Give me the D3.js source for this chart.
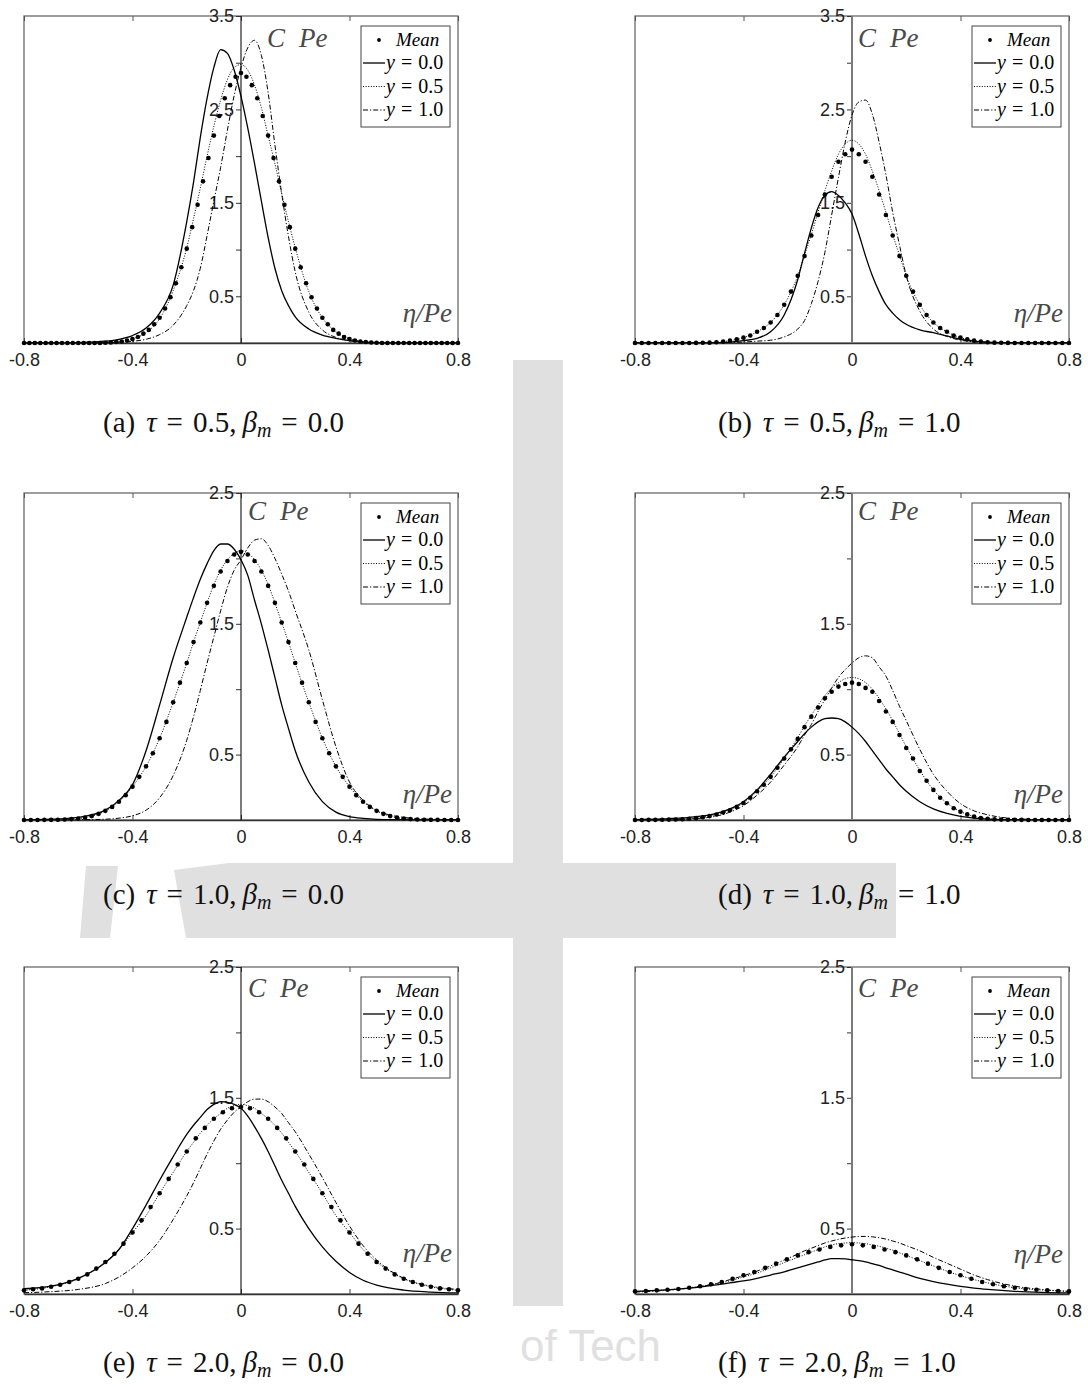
<!DOCTYPE html>
<html>
<head>
<meta charset="utf-8">
<script src="https://cdn.jsdelivr.net/npm/d3@7"></script>
<style>
  html, body { margin: 0; padding: 0; background: #fff; }
  svg { display: block; }
</style>
</head>
<body>
<svg id="fig" width="1088" height="1387"></svg>
<script>
// ---------------------------------------------------------------
// Concentration profiles C·Pe against η/Pe, six cases
// ---------------------------------------------------------------

// abscissae (η/Pe) at which the three transverse profiles are tabulated
const ETA = [-0.8, -0.7, -0.6, -0.5, -0.45, -0.4, -0.35, -0.3, -0.25, -0.2, -0.175, -0.15, -0.125, -0.1, -0.075, -0.05, -0.025,
  0, 0.025, 0.05, 0.075, 0.1, 0.125, 0.15, 0.175, 0.2, 0.25, 0.3, 0.35, 0.4, 0.45, 0.5, 0.6, 0.7, 0.8];

// (a) tau = 0.5, beta_m = 0.0
const A_Y00 = [0, 0, 0.005, 0.02, 0.04, 0.08, 0.16, 0.32, 0.62, 1.3, 1.72, 2.2, 2.62, 2.95, 3.14, 3.1, 2.92, 2.64, 2.3, 1.92, 1.52, 1.13, 0.8, 0.56, 0.4, 0.28, 0.15, 0.085, 0.05, 0.025, 0.01, 0.005, 0, 0, 0];
const A_Y05 = [0, 0, 0, 0.01, 0.02, 0.045, 0.11, 0.26, 0.56, 1.02, 1.33, 1.66, 2.0, 2.32, 2.6, 2.82, 2.95, 2.98, 2.92, 2.76, 2.52, 2.22, 1.92, 1.6, 1.3, 1.02, 0.55, 0.27, 0.12, 0.045, 0.015, 0.005, 0, 0, 0];
const A_Y10 = [0, 0, 0, 0.003, 0.008, 0.018, 0.04, 0.09, 0.19, 0.4, 0.56, 0.8, 1.15, 1.52, 1.88, 2.28, 2.65, 2.95, 3.16, 3.24, 3.08, 2.68, 2.12, 1.6, 1.14, 0.76, 0.33, 0.14, 0.06, 0.025, 0.01, 0.004, 0, 0, 0];
const A_MEAN = [0, 0, 0, 0, 0, 0, 0, 0, 0, 0, 0, 0, 0, 0, 0,
  0.003, 0.006, 0.01, 0.016, 0.026, 0.042, 0.065, 0.1, 0.14, 0.2,
  0.27, 0.37, 0.49, 0.64, 0.81, 1.01, 1.24, 1.48, 1.73, 1.98,
  2.22, 2.43, 2.62, 2.76, 2.85, 2.89, 2.85, 2.76, 2.62, 2.43, 2.22,
  1.98, 1.73, 1.48, 1.24, 1.01, 0.81, 0.64, 0.49, 0.37, 0.27,
  0.2, 0.14, 0.1, 0.065, 0.042, 0.026, 0.016, 0.01, 0.006, 0.003,
  0, 0, 0, 0, 0, 0, 0, 0, 0, 0, 0, 0, 0, 0, 0];

// (b) tau = 0.5, beta_m = 1.0
const B_Y00 = [0, 0, 0, 0.004, 0.01, 0.025, 0.05, 0.12, 0.3, 0.68, 0.96, 1.23, 1.45, 1.58, 1.62, 1.58, 1.5, 1.38, 1.17, 0.93, 0.72, 0.55, 0.41, 0.32, 0.25, 0.2, 0.14, 0.11, 0.075, 0.04, 0.02, 0.008, 0.002, 0, 0];
const B_Y05 = [0, 0, 0, 0.008, 0.025, 0.057, 0.12, 0.22, 0.41, 0.72, 0.94, 1.16, 1.4, 1.63, 1.84, 2.02, 2.13, 2.17, 2.13, 2.02, 1.84, 1.63, 1.4, 1.16, 0.94, 0.72, 0.41, 0.22, 0.12, 0.057, 0.025, 0.008, 0, 0, 0];
const B_Y10 = [0, 0, 0, 0.002, 0.005, 0.01, 0.02, 0.03, 0.065, 0.15, 0.24, 0.42, 0.66, 0.97, 1.37, 1.77, 2.15, 2.44, 2.58, 2.6, 2.45, 2.15, 1.8, 1.4, 1.05, 0.72, 0.34, 0.15, 0.07, 0.03, 0.012, 0.005, 0, 0, 0];
const B_MEAN = [0, 0, 0, 0, 0, 0, 0, 0, 0, 0.001,
  0.002, 0.004, 0.008, 0.015, 0.025, 0.04, 0.057, 0.08, 0.12, 0.16, 0.22, 0.3, 0.41, 0.55, 0.72, 0.93, 1.15, 1.37, 1.59, 1.78, 1.94, 2.02,
  2.07,
  2.02, 1.94, 1.78, 1.59, 1.37, 1.15, 0.93, 0.72, 0.55, 0.41, 0.3, 0.22, 0.16, 0.12, 0.08, 0.057, 0.04, 0.025, 0.015, 0.008, 0.004, 0.002,
  0.001, 0, 0, 0, 0, 0, 0, 0, 0, 0];

// (c) tau = 1.0, beta_m = 0.0
const C_Y00 = [0.002, 0.006, 0.02, 0.075, 0.15, 0.27, 0.53, 0.88, 1.24, 1.55, 1.7, 1.84, 1.96, 2.06, 2.11, 2.11, 2.07, 1.99, 1.87, 1.68, 1.5, 1.3, 1.09, 0.88, 0.7, 0.53, 0.29, 0.14, 0.06, 0.026, 0.012, 0.005, 0.002, 0, 0];
const C_Y05 = [0.001, 0.001, 0.011, 0.07, 0.14, 0.255, 0.41, 0.625, 0.9, 1.2, 1.36, 1.51, 1.66, 1.8, 1.91, 1.99, 2.04, 2.06, 2.04, 1.99, 1.91, 1.8, 1.66, 1.51, 1.36, 1.2, 0.9, 0.625, 0.41, 0.255, 0.14, 0.07, 0.011, 0.001, 0.001];
const C_Y10 = [0, 0, 0.002, 0.006, 0.014, 0.032, 0.075, 0.17, 0.34, 0.61, 0.79, 0.99, 1.2, 1.4, 1.6, 1.78, 1.91, 1.99, 2.08, 2.14, 2.15, 2.1, 2.0, 1.88, 1.75, 1.6, 1.3, 0.92, 0.56, 0.29, 0.15, 0.075, 0.02, 0.006, 0.002];
const C_MEAN = [0, 0, 0, 0.001, 0.001, 0.002, 0.004, 0.007, 0.011, 0.018, 0.03, 0.047, 0.07, 0.1, 0.14, 0.19,
  0.255, 0.33, 0.41, 0.51, 0.625, 0.75, 0.9, 1.05, 1.2, 1.36, 1.51, 1.66, 1.79, 1.9, 1.98, 2.03,
  2.05,
  2.03, 1.98, 1.9, 1.79, 1.66, 1.51, 1.36, 1.2, 1.05, 0.9, 0.75, 0.625, 0.51, 0.41, 0.33, 0.255,
  0.19, 0.14, 0.1, 0.07, 0.047, 0.03, 0.018, 0.011, 0.007, 0.004, 0.002, 0.001, 0.001, 0, 0, 0];

// (d) tau = 1.0, beta_m = 1.0
const D_Y00 = [0.003, 0.008, 0.02, 0.05, 0.085, 0.14, 0.23, 0.35, 0.48, 0.6, 0.66, 0.71, 0.75, 0.775, 0.78, 0.775, 0.75, 0.71, 0.66, 0.6, 0.53, 0.46, 0.39, 0.33, 0.27, 0.22, 0.14, 0.085, 0.05, 0.027, 0.014, 0.007, 0.002, 0, 0];
const D_Y05 = [0, 0.002, 0.01, 0.042, 0.075, 0.13, 0.22, 0.33, 0.47, 0.63, 0.72, 0.8, 0.88, 0.95, 1.01, 1.05, 1.08, 1.09, 1.08, 1.05, 1.0, 0.93, 0.85, 0.76, 0.66, 0.56, 0.38, 0.23, 0.13, 0.065, 0.027, 0.01, 0.002, 0, 0];
const D_Y10 = [0, 0.002, 0.008, 0.03, 0.06, 0.11, 0.19, 0.29, 0.42, 0.56, 0.65, 0.73, 0.83, 0.92, 1.01, 1.09, 1.15, 1.2, 1.24, 1.255, 1.24, 1.17, 1.1, 0.99, 0.87, 0.76, 0.54, 0.35, 0.22, 0.125, 0.07, 0.04, 0.01, 0.003, 0];
const D_MEAN = [0, 0, 0.001, 0.001, 0.002, 0.003, 0.004, 0.006, 0.01, 0.014, 0.021, 0.03, 0.042, 0.057, 0.075, 0.1,
  0.13, 0.17, 0.22, 0.27, 0.33, 0.4, 0.47, 0.54, 0.62, 0.71, 0.79, 0.86, 0.93, 0.98, 1.02, 1.04,
  1.05,
  1.04, 1.01, 0.98, 0.91, 0.83, 0.75, 0.65, 0.55, 0.47, 0.375, 0.3, 0.23, 0.17, 0.128, 0.09, 0.064,
  0.043, 0.026, 0.015, 0.009, 0.005, 0.003, 0.002, 0.001, 0.001, 0, 0, 0, 0, 0, 0, 0];

// (e) tau = 2.0, beta_m = 0.0
const E_Y00 = [0.04, 0.06, 0.12, 0.24, 0.34, 0.5, 0.68, 0.87, 1.05, 1.22, 1.29, 1.35, 1.41, 1.45, 1.47, 1.465, 1.45, 1.42, 1.36, 1.28, 1.19, 1.09, 0.98, 0.87, 0.77, 0.67, 0.5, 0.36, 0.25, 0.165, 0.105, 0.068, 0.03, 0.015, 0.008];
const E_Y05 = [0.028, 0.056, 0.117, 0.245, 0.34, 0.47, 0.6, 0.77, 0.93, 1.09, 1.16, 1.23, 1.29, 1.34, 1.38, 1.42, 1.44, 1.45, 1.44, 1.42, 1.38, 1.34, 1.29, 1.23, 1.16, 1.09, 0.93, 0.77, 0.6, 0.47, 0.34, 0.245, 0.117, 0.056, 0.028];
const E_Y10 = [0.01, 0.018, 0.035, 0.08, 0.13, 0.2, 0.29, 0.41, 0.57, 0.75, 0.85, 0.96, 1.07, 1.17, 1.26, 1.33, 1.39, 1.43, 1.47, 1.49, 1.49, 1.47, 1.43, 1.38, 1.31, 1.24, 1.07, 0.89, 0.7, 0.52, 0.37, 0.26, 0.12, 0.06, 0.035];
const E_MEAN = [0.028, 0.036, 0.043, 0.056, 0.071, 0.092, 0.117, 0.15, 0.194, 0.245, 0.308, 0.385,
  0.47, 0.563, 0.665, 0.77, 0.88, 0.99, 1.09, 1.19, 1.27, 1.34, 1.39, 1.42,
  1.43,
  1.42, 1.39, 1.34, 1.27, 1.19, 1.09, 0.99, 0.88, 0.77, 0.665, 0.563, 0.47,
  0.385, 0.308, 0.245, 0.194, 0.15, 0.117, 0.092, 0.071, 0.056, 0.043, 0.036, 0.028];

// (f) tau = 2.0, beta_m = 1.0
const F_Y00 = [0.02, 0.03, 0.045, 0.07, 0.085, 0.1, 0.12, 0.145, 0.17, 0.2, 0.215, 0.23, 0.245, 0.26, 0.27, 0.27, 0.268, 0.262, 0.255, 0.245, 0.232, 0.218, 0.2, 0.185, 0.168, 0.152, 0.12, 0.095, 0.075, 0.058, 0.045, 0.035, 0.02, 0.012, 0.008];
const F_Y05 = [0.02, 0.03, 0.048, 0.08, 0.1, 0.13, 0.16, 0.2, 0.24, 0.28, 0.3, 0.32, 0.34, 0.36, 0.375, 0.385, 0.39, 0.392, 0.39, 0.385, 0.375, 0.365, 0.35, 0.335, 0.315, 0.295, 0.255, 0.215, 0.175, 0.14, 0.11, 0.085, 0.048, 0.03, 0.02];
const F_Y10 = [0.015, 0.025, 0.045, 0.08, 0.11, 0.14, 0.175, 0.215, 0.26, 0.305, 0.33, 0.35, 0.37, 0.39, 0.405, 0.418, 0.428, 0.435, 0.44, 0.44, 0.437, 0.43, 0.42, 0.405, 0.39, 0.37, 0.33, 0.28, 0.235, 0.19, 0.145, 0.11, 0.06, 0.035, 0.02];
const F_MEAN = [0.02, 0.023, 0.028, 0.033, 0.038, 0.048, 0.059, 0.074, 0.092, 0.117, 0.143, 0.168, 0.2, 0.232, 0.265, 0.295, 0.32, 0.34, 0.36, 0.372,
  0.38,
  0.372, 0.36, 0.34, 0.32, 0.295, 0.265, 0.232, 0.2, 0.168, 0.143, 0.117, 0.092, 0.074, 0.059, 0.048, 0.038, 0.033, 0.028, 0.023, 0.02];

// spacing in η/Pe between the plotted mean markers, per panel
const MEAN_STEP = [0.02, 0.025, 0.025, 0.025, 1 / 30, 0.04];

// panel captions and axis ranges
const PANEL_TAGS = ['(a)', '(b)', '(c)', '(d)', '(e)', '(f)'];
const TAU = ['0.5', '0.5', '1.0', '1.0', '2.0', '2.0'];
const BETA = ['0.0', '1.0', '0.0', '1.0', '0.0', '1.0'];
const Y_MAX = [3.5, 3.5, 2.5, 2.5, 2.5, 2.5];

// axis ticks
const X_TICKS = [-0.8, -0.4, 0, 0.4, 0.8];
const X_TICK_LABELS = ['-0.8', '-0.4', '0', '0.4', '0.8'];
const Y_TICKS = [0.5, 1, 1.5, 2, 2.5, 3, 3.5];
const Y_TICK_LABELS = ['0.5', '', '1.5', '', '2.5', '', '3.5'];

// legend entries
const LEGEND_LABELS = ['Mean', '0.0', '0.5', '1.0'];

const SERIES = [
  { y0: A_Y00, y5: A_Y05, y10: A_Y10, mean: A_MEAN },
  { y0: B_Y00, y5: B_Y05, y10: B_Y10, mean: B_MEAN },
  { y0: C_Y00, y5: C_Y05, y10: C_Y10, mean: C_MEAN },
  { y0: D_Y00, y5: D_Y05, y10: D_Y10, mean: D_MEAN },
  { y0: E_Y00, y5: E_Y05, y10: E_Y10, mean: E_MEAN },
  { y0: F_Y00, y5: F_Y05, y10: F_Y10, mean: F_MEAN }
];

// ---------------------------------------------------------------
// layout
// ---------------------------------------------------------------
const COL_LEFT = [24, 635];
const ROW_TOP = [16, 493, 967];
const PLOT_W = 434, PLOT_H = 327;
const CARD_X = [[0, 513], [563, 1088]];
const CARD_Y = [[0, 387], [462, 863], [938, 1308]];
const CAPTION_X = [103, 718];
const CAPTION_Y = [432, 904, 1372];
const CPE_DX = [26, 6, 7, 6, 7, 6];
const CPE_DY = [31, 31, 27, 27, 30, 30];
const ETA_DY = [21, 21, 17, 17, 32, 31];

const SERIF = "'Liberation Serif', 'DejaVu Serif', serif";
const SANS = "'Liberation Sans', Arial, sans-serif";
const LINE_STYLES = [
  { key: 'y0', dash: null, width: 1.3 },
  { key: 'y5', dash: '1,1.6', width: 1.0 },
  { key: 'y10', dash: '5,2,1.2,2', width: 1.0 }
];

const svg = d3.select('#fig');
svg.append('rect').attr('width', 1088).attr('height', 1387).attr('fill', '#fff');

// faint institutional emblem behind the page
const wm = svg.append('g').attr('fill', '#e0e0e0');
wm.append('rect').attr('x', 513).attr('y', 360).attr('width', 50).attr('height', 946);
wm.append('path').attr('d', 'M229,863 H896 V938 H229 Z');
wm.append('path').attr('d', 'M174,870 L229,863 L229,938 L186,938 Z');
wm.append('path').attr('d', 'M86,866 L118,866 L110,938 L80,938 Z');
wm.append('text').attr('x', 520).attr('y', 1361).attr('font-family', SANS)
  .attr('font-size', 44).attr('fill', '#e0e0e0').text('of Tech');

// white figure cards
CARD_Y.forEach(([y0, y1]) => CARD_X.forEach(([x0, x1]) => {
  svg.append('rect').attr('x', x0).attr('y', y0).attr('width', x1 - x0).attr('height', y1 - y0).attr('fill', '#fff');
}));

const defs = svg.append('defs');

SERIES.forEach((s, i) => {
  const col = i % 2, row = Math.floor(i / 2);
  const L = COL_LEFT[col], T = ROW_TOP[row];
  const x = d3.scaleLinear().domain([-0.8, 0.8]).range([L, L + PLOT_W]);
  const y = d3.scaleLinear().domain([0, Y_MAX[i]]).range([T + PLOT_H, T]);
  const g = svg.append('g');

  const clipId = 'plot-clip-' + i;
  defs.append('clipPath').attr('id', clipId)
    .append('rect').attr('x', L).attr('y', T - 2).attr('width', PLOT_W).attr('height', PLOT_H + 2);

  // frame
  g.append('rect').attr('x', L).attr('y', T).attr('width', PLOT_W).attr('height', PLOT_H)
    .attr('fill', 'none').attr('stroke', '#6a6a6a').attr('stroke-width', 1.3);

  // bottom axis with labels, inward ticks
  const gx = g.append('g').attr('transform', `translate(0,${T + PLOT_H})`)
    .call(d3.axisBottom(x).tickValues(X_TICKS).tickSizeInner(-5).tickSizeOuter(0).tickPadding(10)
      .tickFormat((d, k) => X_TICK_LABELS[k]));
  gx.select('.domain').attr('stroke', '#333').attr('stroke-width', 1.3);
  gx.selectAll('.tick line').attr('stroke', '#444');
  gx.selectAll('text').attr('font-family', SANS).attr('font-size', 18).attr('fill', '#222');

  // top edge ticks
  const gt = g.append('g').attr('transform', `translate(0,${T})`)
    .call(d3.axisTop(x).tickValues(X_TICKS).tickSizeInner(-5).tickSizeOuter(0).tickFormat(''));
  gt.select('.domain').remove();
  gt.selectAll('.tick line').attr('stroke', '#555');

  // vertical axis through η/Pe = 0
  const yTicks = Y_TICKS.filter(v => v <= Y_MAX[i] + 1e-9);
  const gy = g.append('g').attr('transform', `translate(${x(0)},0)`)
    .call(d3.axisLeft(y).tickValues(yTicks).tickSizeInner(5).tickSizeOuter(0).tickPadding(2)
      .tickFormat(v => Y_TICK_LABELS[Y_TICKS.indexOf(v)]));
  gy.select('.domain').remove();
  gy.selectAll('.tick line').attr('stroke', '#333');
  gy.selectAll('text').attr('font-family', SANS).attr('font-size', 18).attr('fill', '#222');
  g.append('line').attr('x1', x(0)).attr('x2', x(0)).attr('y1', y(0)).attr('y2', y(Y_MAX[i]))
    .attr('stroke', col === 0 ? '#111' : '#7a7a7a').attr('stroke-width', col === 0 ? 1.1 : 2);

  // profiles
  const line = d3.line().x((d, k) => x(ETA[k])).y(d => y(d)).curve(d3.curveMonotoneX);
  const curves = g.append('g').attr('clip-path', `url(#${clipId})`);
  LINE_STYLES.forEach(st => {
    curves.append('path').datum(s[st.key]).attr('d', line)
      .attr('fill', 'none').attr('stroke', '#000').attr('stroke-width', st.width)
      .attr('stroke-dasharray', st.dash);
  });

  // mean markers
  const step = MEAN_STEP[i];
  g.append('g').selectAll('circle').data(s.mean).join('circle')
    .attr('cx', (d, k) => x(-0.8 + k * step)).attr('cy', d => y(d)).attr('r', 2.3).attr('fill', '#000');

  // axis annotations
  const cpe = g.append('text').attr('x', x(0) + CPE_DX[i]).attr('y', T + CPE_DY[i])
    .attr('font-family', SERIF).attr('font-style', 'italic').attr('font-size', 27).attr('fill', '#4a4a4a');
  cpe.append('tspan').text('C');
  cpe.append('tspan').attr('dx', 14).text('Pe');
  g.append('text').attr('x', L + PLOT_W - 6).attr('y', T + PLOT_H - ETA_DY[i]).attr('text-anchor', 'end')
    .attr('font-family', SERIF).attr('font-style', 'italic').attr('font-size', 27).attr('fill', '#4a4a4a')
    .text('η/Pe');

  // legend
  const LW = 89, LH = 101;
  const lg = g.append('g').attr('transform', `translate(${L + PLOT_W - 8 - LW},${T + 10})`);
  lg.append('rect').attr('width', LW).attr('height', LH).attr('fill', '#fff').attr('stroke', '#444').attr('stroke-width', 1);
  const rowY = [14, 37, 60.5, 84];
  lg.append('circle').attr('cx', 18).attr('cy', rowY[0]).attr('r', 1.9).attr('fill', '#000');
  lg.append('text').attr('x', 35).attr('y', rowY[0] + 6).attr('font-family', SERIF).attr('font-style', 'italic')
    .attr('font-size', 19).text(LEGEND_LABELS[0]);
  LINE_STYLES.forEach((st, k) => {
    const ry = rowY[k + 1];
    lg.append('line').attr('x1', 2).attr('x2', 24).attr('y1', ry).attr('y2', ry)
      .attr('stroke', '#000').attr('stroke-width', st.width).attr('stroke-dasharray', st.dash);
    const t = lg.append('text').attr('x', 25).attr('y', ry + 6).attr('font-family', SERIF).attr('font-size', 20);
    t.append('tspan').attr('font-style', 'italic').text('y');
    t.append('tspan').attr('dx', 6).text('=');
    t.append('tspan').attr('dx', 6).text(LEGEND_LABELS[k + 1]);
  });

  // caption
  const cap = svg.append('text').attr('x', CAPTION_X[col]).attr('y', CAPTION_Y[row])
    .attr('font-family', SERIF).attr('font-size', 29).attr('fill', '#111');
  cap.append('tspan').text(PANEL_TAGS[i]);
  cap.append('tspan').attr('dx', 11).attr('font-style', 'italic').text('τ');
  cap.append('tspan').attr('dx', 10).text('=');
  cap.append('tspan').attr('dx', 10).text(TAU[i] + ',');
  cap.append('tspan').attr('dx', 6).attr('font-style', 'italic').text('β');
  cap.append('tspan').attr('font-style', 'italic').attr('font-size', 20).attr('dy', 5).text('m');
  cap.append('tspan').attr('dx', 10).attr('dy', -5).text('=');
  cap.append('tspan').attr('dx', 10).text(BETA[i]);
});
</script>
</body>
</html>
